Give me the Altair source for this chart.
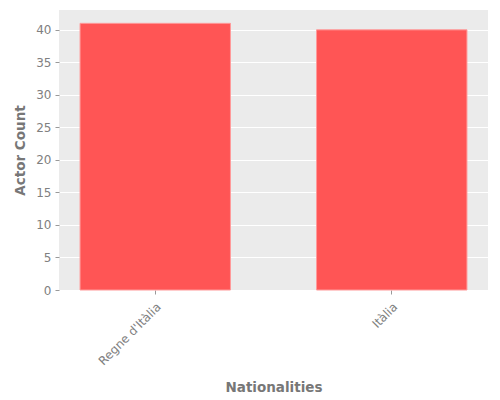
import altair as alt
import pandas as pd

nationalities = ["Regne d'Itàlia", "Itàlia"]
counts = [41, 40]

df = pd.DataFrame({"Nationalities": nationalities, "Actor Count": counts})

label_gray = "#808080"
title_gray = "#777777"
font = "DejaVu Sans"

chart = alt.Chart(df).mark_bar(
    color="#FF5555", stroke="#FF9A9A", strokeWidth=1
).encode(
    x=alt.X("Nationalities:N", sort=nationalities,
            scale=alt.Scale(paddingInner=0.364, paddingOuter=0.089),
            axis=alt.Axis(title="Nationalities", labelAngle=-45, labelAlign="right",
                          labelBaseline="top", labelFontSize=12, labelColor=label_gray,
                          labelFont=font, tickColor="#999999", tickSize=4,
                          domain=False, grid=False, titleFont=font, titleFontSize=13.5,
                          titleFontWeight="bold", titleColor=title_gray, titlePadding=14,
                          labelPadding=7)),
    y=alt.Y("Actor Count:Q", scale=alt.Scale(domain=[0, 43.05], nice=False),
            axis=alt.Axis(title="Actor Count", values=[0, 5, 10, 15, 20, 25, 30, 35, 40],
                          labelFontSize=12, labelColor=label_gray, labelFont=font,
                          tickColor="#999999", tickSize=4, domain=False,
                          gridColor="white", gridWidth=1, titleFont=font, titleFontSize=13.5,
                          titleFontWeight="bold", titleColor=title_gray, titlePadding=8,
                          labelPadding=4)),
).properties(
    width=429, height=280,
    padding={"left": 51, "top": 2, "right": 4, "bottom": 108},
    autosize=alt.AutoSizeParams(type="none"),
    background="white",
).configure_view(
    fill="#EBEBEB", strokeWidth=0, stroke="transparent"
)

chart.save("out.html", embed_options={"renderer": "svg", "actions": False})
